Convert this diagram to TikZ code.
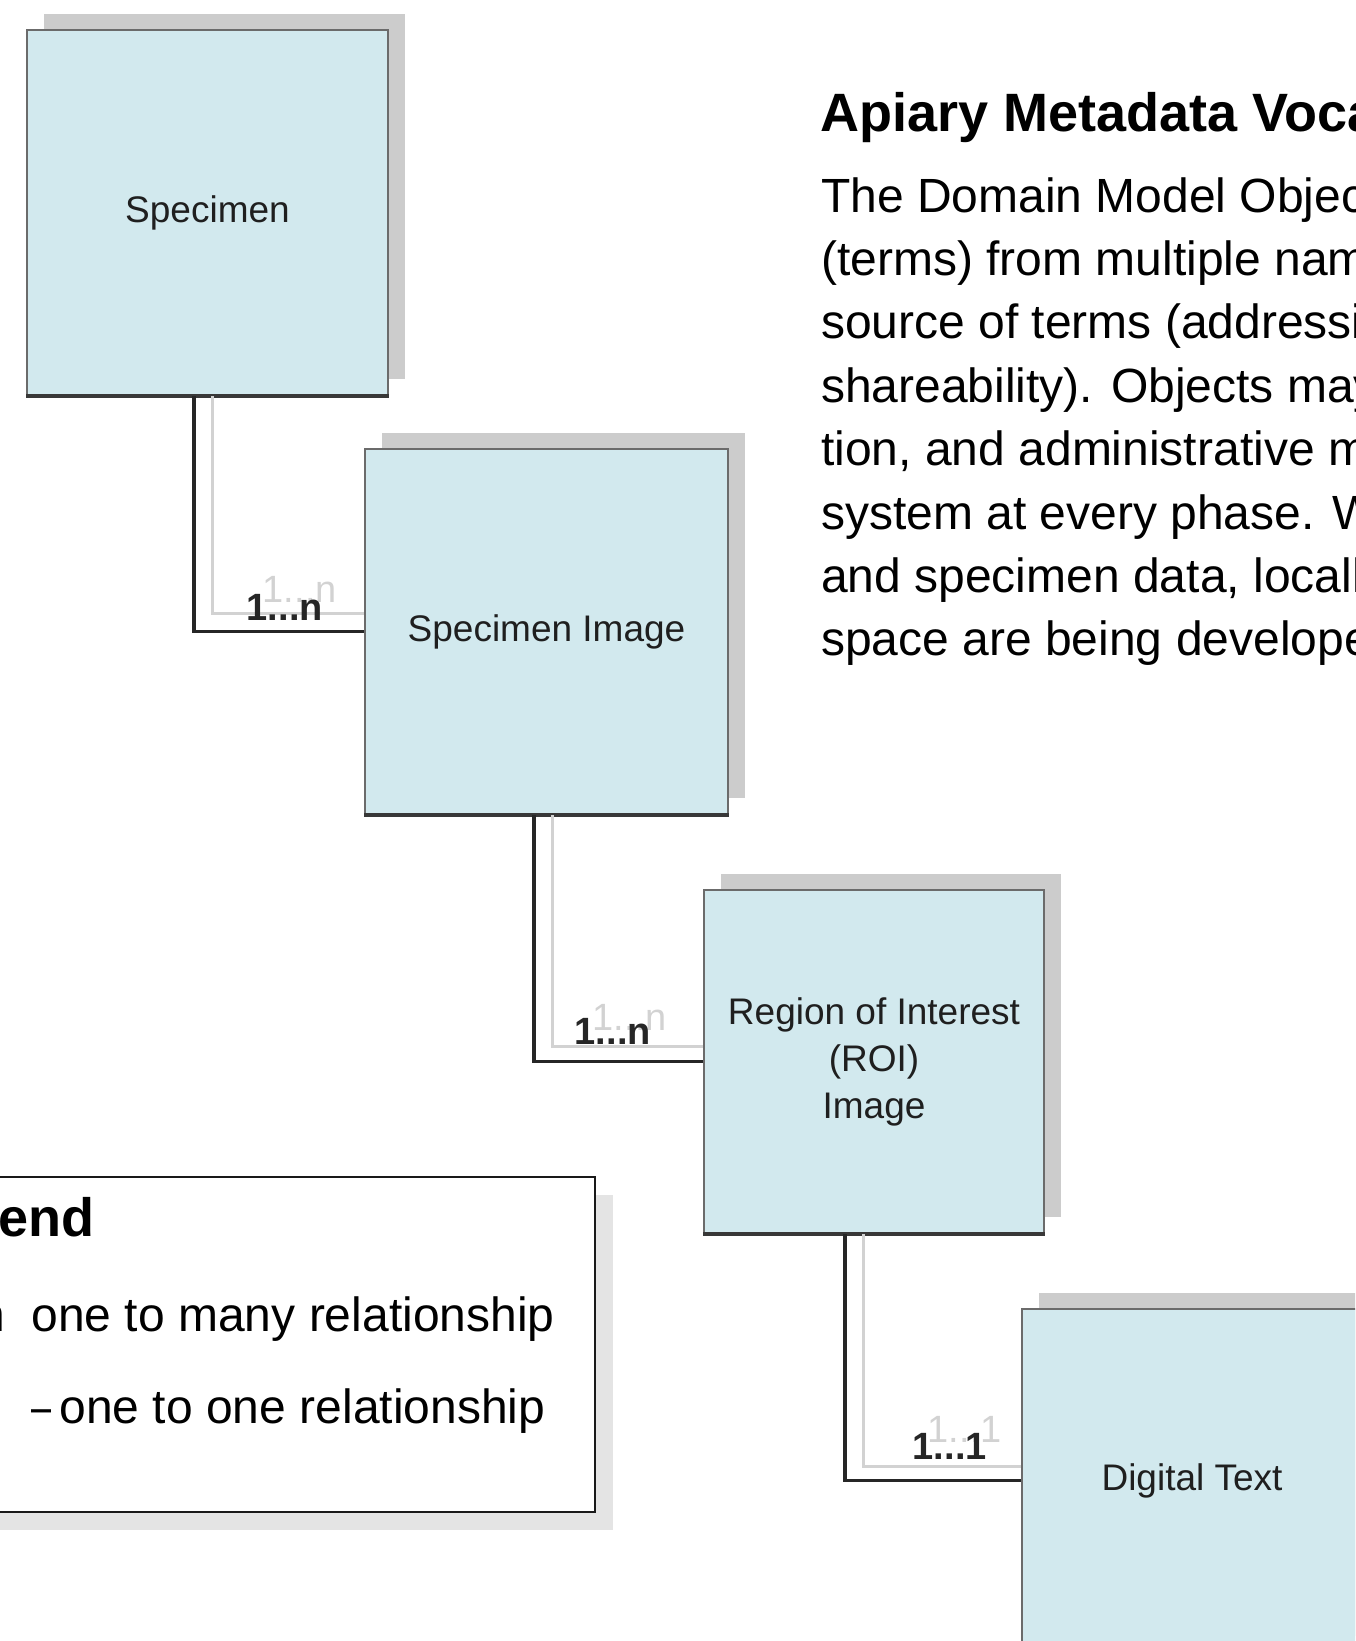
\documentclass[tikz,border=0pt]{standalone}
\usepackage{fontspec}
\setmainfont{Liberation Sans}
\usepackage{xcolor}
\usepackage{tikz}
\usetikzlibrary{shadows}
\definecolor{boxfill}{HTML}{D2E9EE}
\definecolor{boxshade}{HTML}{CCCCCC}
\definecolor{legshade}{HTML}{E4E4E4}
\definecolor{linkgray}{HTML}{D2D2D2}

\begin{document}
\begin{tikzpicture}[x=1pt,y=-1pt,
  obj/.style={rectangle,draw=black!58,line width=2pt,fill=boxfill,inner sep=0pt,align=center,
    font=\fontsize{37}{47}\selectfont,text=black!88,
    general shadow={fill=boxshade,shadow xshift=17pt,shadow yshift=16pt}},
  objbottom/.style={line width=4.5pt,black!78},
  link/.style={line width=3.5pt,black!85},
  linkshade/.style={line width=3pt,linkgray},
  mult/.style={anchor=base east,inner sep=0pt,font=\fontsize{38}{38}\selectfont\bfseries,text=black!85},
  multshade/.style={anchor=base east,inner sep=0pt,font=\fontsize{38}{38}\selectfont,text=linkgray},
  body/.style={anchor=base west,inner sep=0pt,font=\fontsize{48}{60}\selectfont},
  head/.style={anchor=base west,inner sep=0pt,font=\fontsize{54}{60}\selectfont\bfseries}]
\useasboundingbox (0,0) rectangle (1355,1641);
\clip (0,0) rectangle (1355,1641);

\node (Spec)[obj,minimum width=361pt,minimum height=365pt] at (207.5,212.5) {Specimen};
\node (SpecImg)[obj,minimum width=363pt,minimum height=365pt] at (546.5,631.5) {Specimen Image};
\node (ROI)[obj,minimum width=340pt,minimum height=343pt] at (874,1061.5) {Region of Interest\\(ROI)\\Image};
\node (DText)[obj,minimum width=340pt,minimum height=343pt] at (1192,1480.5) {Digital Text};

\draw[objbottom] (Spec.south west) -- (Spec.south east);
\draw[objbottom] (SpecImg.south west) -- (SpecImg.south east);
\draw[objbottom] (ROI.south west) -- (ROI.south east);

\draw[linkshade] ([xshift=4.5pt]Spec.south) |- ([yshift=18pt]SpecImg.west);
\node (M1s)[multshade] at (337,602) {1...n};
\draw[link] ([xshift=-13.5pt]Spec.south) |- (SpecImg.west);
\node (M1)[mult] at (323,620) {1...n};

\draw[linkshade] ([xshift=5.5pt]SpecImg.south) |- ([yshift=15.5pt]ROI.west);
\node (M2s)[multshade] at (667,1030) {1...n};
\draw[link] ([xshift=-12.5pt]SpecImg.south) |- (ROI.west);
\node (M2)[mult] at (651,1044) {1...n};

\draw[linkshade] ([xshift=-11pt]ROI.south) |- ([yshift=14.5pt]DText.west);
\node (M3s)[multshade] at (1002,1442) {1...1};
\draw[link] ([xshift=-29pt]ROI.south) |- (DText.west);
\node (M3)[mult] at (987,1459) {1...1};

\node (Title)[head] at (820,131) {Apiary Metadata Voca};
\node (T1)[body] at (821,212) {The Domain Model Objec};
\node (T2)[body] at (821,275.4) {(terms) from multiple nam};
\node (T3)[body] at (821,338.8) {source of terms (addressi};
\node (T4)[body] at (821,402.2) {shareability). Objects may};
\node (T5)[body] at (821,465.6) {tion, and administrative m};
\node (T6)[body] at (821,529) {system at every phase. W};
\node (T7)[body] at (821,592.4) {and specimen data, locall};
\node (T8)[body] at (821,655.8) {space are being develope};

\node (Leg)[rectangle,draw=black!90,line width=2.5pt,fill=white,minimum width=995pt,minimum height=335pt,
  general shadow={fill=legshade,shadow xshift=18pt,shadow yshift=-18pt}] at (97.5,1344.5) {};
\node (LegT)[head] at (-2,1236) {end};
\node (Leg1)[body] at (-22,1331) {n\ \ one to many relationship};
\node (Leg2)[body] at (31,1423) {\scalebox{0.75}[1]{--}\hspace{-5pt} one to one relationship};
\end{tikzpicture}
\end{document}
